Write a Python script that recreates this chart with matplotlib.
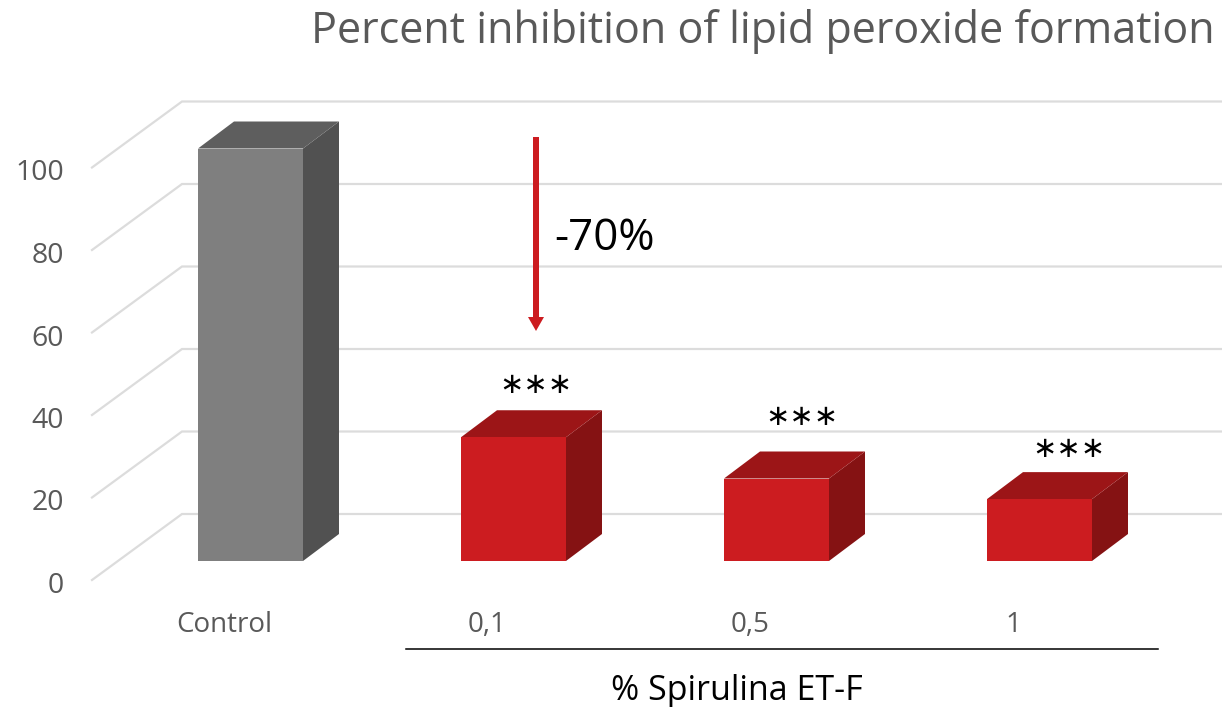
import matplotlib
matplotlib.use("Agg")
import matplotlib.pyplot as plt
from matplotlib.patches import Polygon, FancyArrow
from matplotlib.lines import Line2D
from matplotlib.transforms import Affine2D

categories = ["Control", "0,1", "0,5", "1"]
values = [100, 30, 20, 15]
y_ticks = [0, 20, 40, 60, 80, 100]
title = "Percent inhibition of lipid peroxide formation"
group_label = "% Spirulina ET-F"
change_label = "-70%"
signif = ["", "\u2217\u2217\u2217", "\u2217\u2217\u2217", "\u2217\u2217\u2217"]

W, H = 1222, 707
plt.rcParams["font.family"] = ["Open Sans", "DejaVu Sans"]
fig = plt.figure(figsize=(W / 100, H / 100), dpi=100)

# axes frame in pixels
L, R, B, T = 92, 1222, 580, 90
ax = fig.add_axes([L / W, 1 - B / H, (R - L) / W, (B - T) / H])
PX_X = 263.0        # pixels per category
PX_Y = 4.125        # pixels per value unit
X0 = 224            # pixel of the first category on the floor's front edge
ax.set_xlim((L - X0) / PX_X, (R - X0) / PX_X)
ax.set_ylim(0, (B - T) / PX_Y)
for s in ax.spines.values():
    s.set_visible(False)
ax.patch.set_visible(False)

ax.set_xticks(range(len(categories)), categories)
ax.set_yticks(y_ticks)
ax.tick_params(axis="both", length=0, labelcolor="#595959")
ax.tick_params(axis="x", pad=22.5, labelsize=20)
ax.tick_params(axis="y", pad=20, labelsize=20.5)
down = Affine2D().translate(0, -2.5)
for tick in ax.yaxis.get_major_ticks():
    tick.label1.set_transform(tick.label1.get_transform() + down)

def dx(p): return p / PX_X
def dy(p): return p / PX_Y

# walls and gridlines
GRID = "#dcdcdc"
left = (L - X0) / PX_X
right = (R - X0) / PX_X
for v in y_ticks:
    ax.plot([left, left + dx(90), right], [v, v + dy(66), v + dy(66)],
            color=GRID, lw=1.6, clip_on=False, zorder=1, solid_joinstyle="miter")

# bars
def box(i, v, front, top, side):
    cx = i + dx(26.5)
    y0 = dy(19)
    hw = dx(52.5)
    ddx, ddy = dx(36), dy(27)
    y1 = y0 + v
    xl, xr = cx - hw, cx + hw
    ax.add_patch(Polygon([(xr, y0), (xr + ddx, y0 + ddy), (xr + ddx, y1 + ddy), (xr, y1)],
                         fc=side, ec="none", zorder=3))
    ax.add_patch(Polygon([(xl, y1), (xr, y1), (xr + ddx, y1 + ddy), (xl + ddx, y1 + ddy)],
                         fc=top, ec="none", zorder=3))
    ax.bar(cx, v, bottom=y0, width=2 * hw, color=front, edgecolor="none", zorder=4)

styles = [("#7f7f7f", "#5e5e5e", "#515151")] + [("#cc1c20", "#9c1517", "#851213")] * 3
for i, (v, st) in enumerate(zip(values, styles)):
    box(i, v, *st)

# pixel-based annotations on the figure
px = Affine2D().scale(1 / W, -1 / H).translate(0, 1) + fig.transFigure

def ftext(x, y, s, **kw):
    fig.text(x, y, s, transform=px, ha=kw.pop("ha", "center"), va=kw.pop("va", "center"), **kw)

ftext(1215, 31, title, ha="right", color="#595959", fontsize=31.1)
ftext(604, 239, change_label, color="black", fontsize=31.5)
ftext(737, 691, group_label, color="black", fontsize=24.5)

star_px = [None, (536, 385), (802, 417), (1069, 449)]
for s, pos in zip(signif, star_px):
    if pos:
        ftext(pos[0], pos[1], s, color="black", fontsize=21, family="DejaVu Sans")

fig.add_artist(FancyArrow(536, 137, 0, 194, width=6, head_width=16, head_length=14,
                          length_includes_head=True, color="#cc1c20", lw=0, transform=px))
fig.add_artist(Line2D([406, 1158], [649, 649], color="black", lw=1.1, transform=px))

fig.savefig("out.png", dpi=100)
